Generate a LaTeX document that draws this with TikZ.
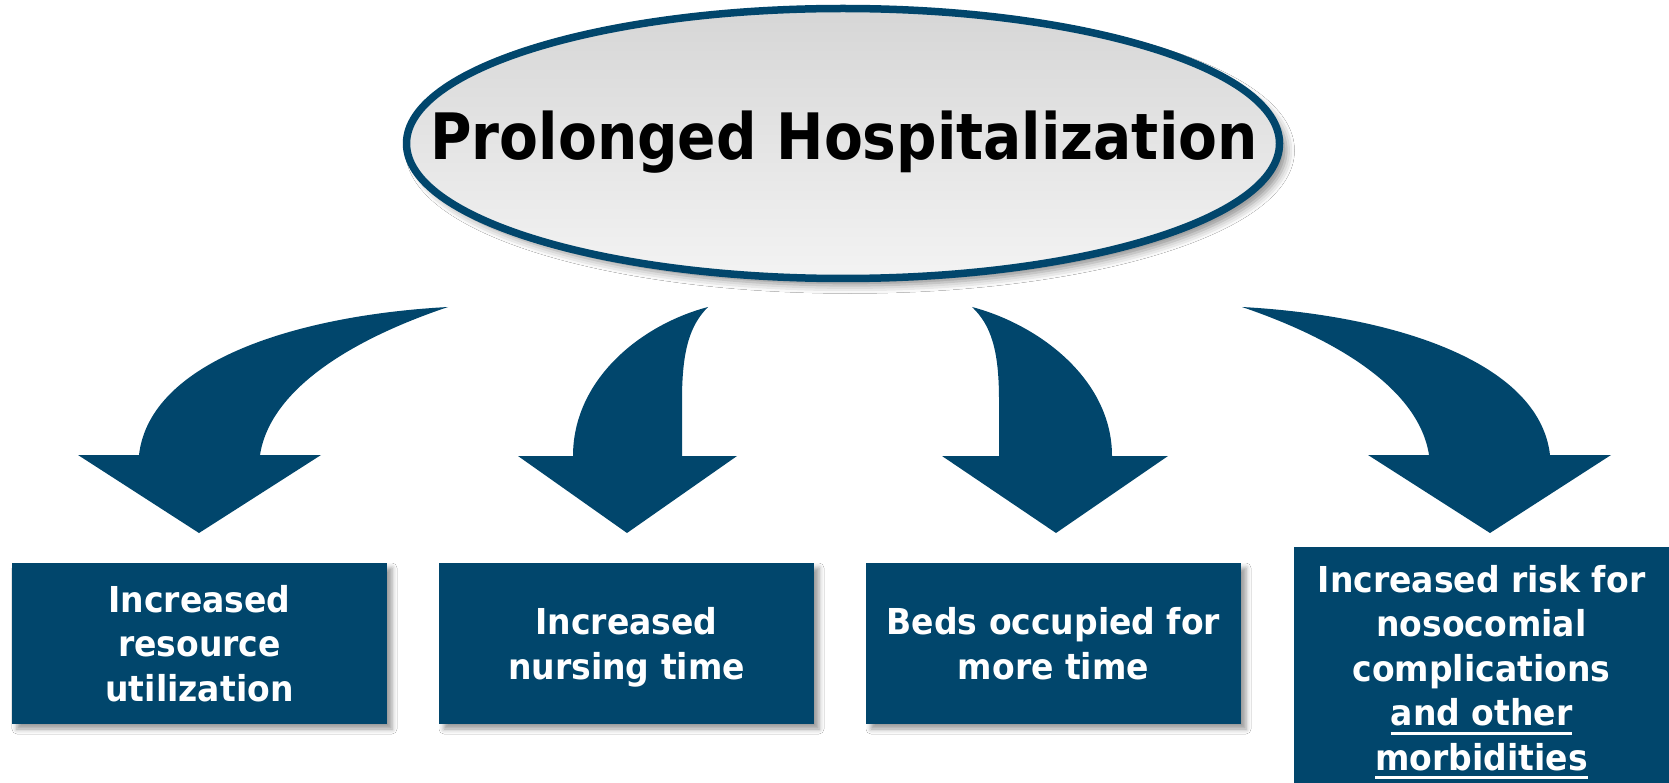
\documentclass[tikz,border=0pt]{standalone}
\usepackage{fontspec}
\usetikzlibrary{shapes.geometric,shadows.blur}
\newfontfamily\titlefont{DejaVu Sans}[FakeStretch=0.885]
\newfontfamily\boxfont{DejaVu Sans}[FakeStretch=0.925]
\definecolor{deepblue}{RGB}{1,70,108}
\definecolor{ovaltop}{RGB}{214,214,214}
\definecolor{ovalbottom}{RGB}{243,243,243}
\newsavebox\ulbox
\newcommand{\ulword}[1]{\sbox\ulbox{#1}\rlap{\rule[-9pt]{\wd\ulbox}{3pt}}\usebox\ulbox}
\begin{document}
\begin{tikzpicture}[x=1pt,y=-1pt,
  oval/.style={ellipse, draw=deepblue, line width=7.5pt, top color=ovaltop,
    bottom color=ovalbottom, minimum width=873pt, minimum height=270pt, inner sep=0pt,
    blur shadow={shadow xshift=7pt, shadow yshift=-7pt, shadow blur radius=8pt, shadow opacity=45}},
  outbox/.style={rectangle, fill=deepblue, text=white, minimum width=375pt,
    minimum height=161pt, inner sep=0pt, align=center,
    font=\boxfont\bfseries\fontsize{35.7pt}{44.5pt}\selectfont,
    blur shadow={shadow xshift=5pt, shadow yshift=-5pt, shadow blur radius=5pt, shadow opacity=40}},
  bigarrow/.style={fill=deepblue, draw=none}]
\fill[white] (0,0) rectangle (1669,783);
\useasboundingbox (0,0) rectangle (1669,783);

% central oval and its caption
\node[oval] (hosp) at (843,143.5) {};
\node[font=\titlefont\bfseries\fontsize{64pt}{70pt}\selectfont, anchor=base] (title) at (844,160) {Prolonged Hospitalization};

% curved block arrows
\path[bigarrow] (448,307) .. controls (300,315) and (150,360) .. (139,455) -- (78,455) -- (199,533) -- (321,455) -- (260,455) .. controls (270,390) and (350,340) .. (448,307) -- cycle;
\path[bigarrow] (708,307) .. controls (640,325) and (573,380) .. (573,456) -- (518,456) -- (627,533) -- (737,456) -- (682,456) -- (682,400) .. controls (682,350) and (690,325) .. (708,307) -- cycle;
\path[bigarrow] (972,307) .. controls (1040,325) and (1112,380) .. (1112,456) -- (1168,456) -- (1056,533) -- (942,456) -- (999,456) -- (999,400) .. controls (999,350) and (991,325) .. (972,307) -- cycle;
\path[bigarrow] (1242,307) .. controls (1389,315) and (1539,360) .. (1550,455) -- (1611,455) -- (1490,533) -- (1368,455) -- (1429,455) .. controls (1419,390) and (1339,340) .. (1242,307) -- cycle;

% consequence boxes
\node[outbox] (resource) at (199.5,643.5) {Increased\\resource\\utilization};
\node[outbox, text depth=0pt] (nursing) at (626.5,643.5) {Increased\\nursing time};
\node[outbox] (beds) at (1053.5,643.5) {Beds occupied for\\more time};
\node[outbox, minimum height=250pt] (risk) at (1481.5,672) {Increased risk for\\nosocomial\\complications\\\ulword{and other}\\\ulword{morbidities}};
\end{tikzpicture}
\end{document}
